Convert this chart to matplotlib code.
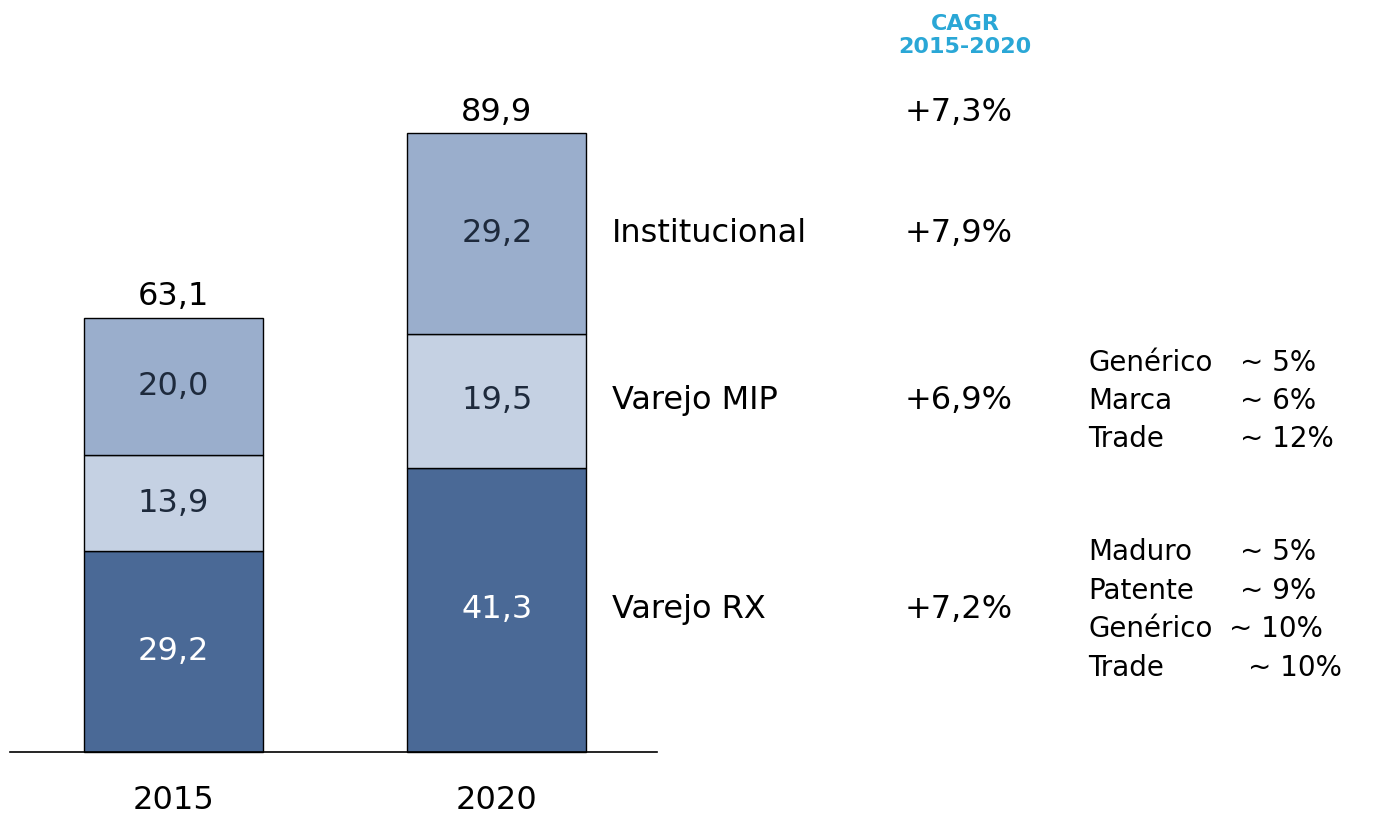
import matplotlib.pyplot as plt
import numpy as np

# data
years = ["2015", "2020"]
segments = ["Varejo RX", "Varejo MIP", "Institucional"]
values = {
    "Varejo RX": [29.2, 41.3],
    "Varejo MIP": [13.9, 19.5],
    "Institucional": [20.0, 29.2],
}
totals = [63.1, 89.9]
cagr_total = "+7,3%"
cagr = {"Institucional": "+7,9%", "Varejo MIP": "+6,9%", "Varejo RX": "+7,2%"}
mip_notes = [("Genérico", "~ 5%"), ("Marca", "~ 6%"), ("Trade", "~ 12%")]
rx_notes = [("Maduro", "~ 5%"), ("Patente", "~ 9%"), ("Genérico", "~ 10%"), ("Trade", "~ 10%")]

colors = {"Varejo RX": "#4a6996", "Varejo MIP": "#c5d1e3", "Institucional": "#9aaecc"}
txt_colors = {"Varejo RX": "white", "Varejo MIP": "#1e2a3c", "Institucional": "#1e2a3c"}

fig = plt.figure(figsize=(13.74, 8.16), dpi=100)
ax = fig.add_axes([0, 0, 1, 1])
ax.set_xlim(-0.536, 3.711)
ax.set_ylim(-9.3, 109.3)
ax.axis("off")

big = 23
small = 20

x = np.arange(len(years))
width = 0.553
bottom = np.zeros(len(years))
centers = {}
for seg in segments:
    v = np.array(values[seg])
    ax.bar(x, v, width, bottom=bottom, color=colors[seg], edgecolor="black", linewidth=1)
    mid = bottom + v / 2
    centers[seg] = mid
    for xi, yi, vi in zip(x, mid, v):
        ax.text(xi, yi, f"{vi:.1f}".replace(".", ","), ha="center", va="center",
                fontsize=big, color=txt_colors[seg])
    bottom += v

for xi, t in zip(x, totals):
    ax.text(xi, t + 3.1, f"{t:.1f}".replace(".", ","), ha="center", va="center",
            fontsize=big, color="black")
    ax.text(xi, -7.0, years[xi], ha="center", va="center", fontsize=big, color="black")

ax.plot([-0.505, 1.495], [0, 0], color="black", linewidth=1.2)

# segment names and CAGR
for seg in segments:
    yc = centers[seg][1]
    ax.text(1.355, yc, seg, ha="left", va="center", fontsize=big, color="black")
    ax.text(2.261, yc, cagr[seg], ha="left", va="center", fontsize=big, color="black")
ax.text(2.261, totals[1] + 3.1, cagr_total, ha="left", va="center", fontsize=big, color="black")
ax.text(2.447, 104.1, "CAGR\n2015-2020", ha="center", va="center", fontsize=16,
        fontweight="bold", color="#2aa7d6", linespacing=1.2)

# breakdown notes
for i, (name, val) in enumerate(mip_notes):
    yy = centers["Varejo MIP"][1] + (1 - i) * 5.5
    ax.text(2.827, yy, name, ha="left", va="center", fontsize=small)
    ax.text(3.297, yy, val, ha="left", va="center", fontsize=small)
val_x = [3.297, 3.297, 3.262, 3.32]
for i, (name, val) in enumerate(rx_notes):
    yy = centers["Varejo RX"][1] + (1.5 - i) * 5.6
    ax.text(2.827, yy, name, ha="left", va="center", fontsize=small)
    ax.text(val_x[i], yy, val, ha="left", va="center", fontsize=small)

fig.savefig("out.png", dpi=100)
